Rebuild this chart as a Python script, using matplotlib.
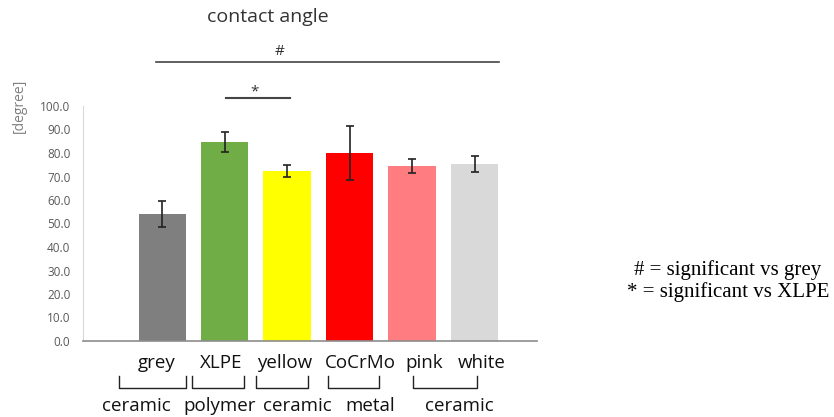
import matplotlib
matplotlib.use('Agg')
import matplotlib.pyplot as plt
import numpy as np

# values
materials = ['grey', 'XLPE', 'yellow', 'CoCrMo', 'pink', 'white']
angle_mean = [54.0, 84.6, 72.3, 80.0, 74.6, 75.4]
angle_err = [5.4, 4.3, 2.4, 11.5, 3.0, 3.3]
bar_colors = ['#7f7f7f', '#70ad47', '#ffff00', '#ff0000', '#ff7c80', '#d9d9d9']
yticks = np.arange(0, 101, 10)

# material class brackets under the category labels
groups = ['ceramic', 'polymer', 'ceramic', 'metal', 'ceramic']

# hand placed annotation positions (category units), as in the source figure
label_x = [-0.09, 0.94, 1.96, 3.17, 4.19, 5.12]
group_x = [-0.41, 0.92, 2.17, 3.33, 4.75]
group_spans = [(-0.70, 0.38), (0.47, 1.31), (1.50, 2.33), (2.65, 3.47), (4.01, 5.04)]

FONT = 'Open Sans'
W, H = 834, 417
fig = plt.figure(figsize=(W / 100, H / 100), dpi=100)
ax = fig.add_axes((83 / W, (H - 341) / H, (537 - 83) / W, (341 - 106) / H))

x = np.arange(len(materials))
ax.bar(x, angle_mean, width=0.76, color=bar_colors, zorder=2)
ax.errorbar(x, angle_mean, yerr=angle_err, fmt='none', ecolor='#222222',
            elinewidth=1.2, capsize=3.2, capthick=1.2, zorder=3)

ax.set_xlim(-1.27, 6.0)
ax.set_ylim(0, 100)
ax.set_yticks(yticks)
ax.set_yticklabels([f'{v:.1f}' for v in yticks], fontsize=8.5, color='#595959',
                   fontfamily=FONT)
ax.tick_params(axis='y', length=0, pad=9)
ax.set_xticks([])
for s in ['top', 'right']:
    ax.spines[s].set_visible(False)
ax.spines['left'].set_color('#d9d9d9')
ax.spines['bottom'].set_color('#8c8c8c')
ax.spines['bottom'].set_linewidth(1.2)

for lx, name in zip(label_x, materials):
    ax.text(lx, -9.4, name, ha='center', va='center', fontsize=13.5,
            fontfamily=FONT, color='#111111', clip_on=False)

fig.text(19 / W, 1 - 106 / H, '[degree]', rotation=90, ha='center', va='center',
         fontsize=10, color='#808080', fontfamily=FONT)
fig.text(268 / W, 1 - 17 / H, 'contact angle', ha='center', va='center',
         fontsize=14, color='#333333', fontfamily=FONT)

# significance markers
ax.plot([-0.10, 5.39], [118.7, 118.7], color='#444444', lw=1.2, clip_on=False)
ax.text(1.88, 123.4, '#', ha='center', va='center', fontsize=11, color='#333333',
        fontfamily=FONT)
ax.plot([1.02, 2.04], [103.4, 103.4], color='#444444', lw=1.5, clip_on=False)
ax.text(1.47, 106.0, '*', ha='center', va='center', fontsize=11, color='#333333',
        fontfamily=FONT)

# class brackets below
for name, gx, (a, b) in zip(groups, group_x, group_spans):
    ax.plot([a, a, b, b], [-14.8, -19.8, -19.8, -14.8], color='#222222', lw=1.0,
            clip_on=False)
    ax.text(gx, -27.5, name, ha='center', va='center', fontsize=13.5,
            fontfamily=FONT, color='#111111', clip_on=False)

fig.text(728 / W, 1 - 270 / H, '# = significant vs grey', ha='center', va='center',
         fontsize=15, fontfamily='Liberation Serif')
fig.text(728 / W, 1 - 292 / H, '* = significant vs XLPE', ha='center', va='center',
         fontsize=15, fontfamily='Liberation Serif')

fig.savefig('out.png', dpi=100, facecolor='white')
